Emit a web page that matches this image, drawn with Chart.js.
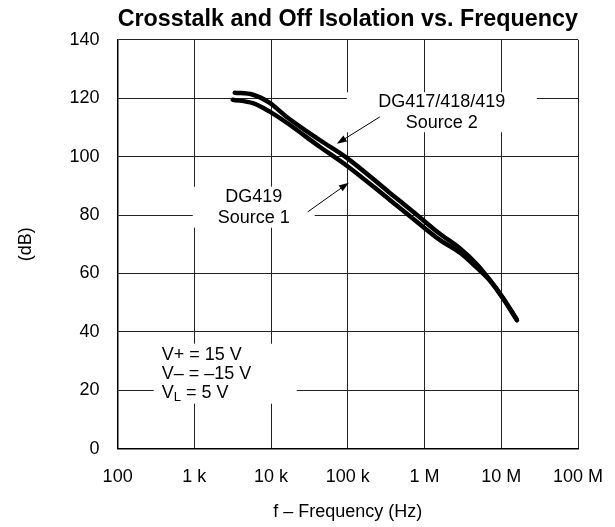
<!DOCTYPE html>
<html>
<head>
<meta charset="utf-8">
<script src="https://cdn.jsdelivr.net/npm/chart.js@4.4.1/dist/chart.umd.min.js"></script>
<style>
  html, body { margin: 0; padding: 0; background: #fff; }
  #wrap { width: 615px; height: 527px; }
</style>
</head>
<body>
<div id="wrap"><canvas id="chart"></canvas></div>
<script>
// axis ticks
const xTicks = [1e2, 1e3, 1e4, 1e5, 1e6, 1e7, 1e8];
const xTickLabels = ['100', '1 k', '10 k', '100 k', '1 M', '10 M', '100 M'];

// DG417/418/419 Source 2 (upper curve)
const freqSource2 = [3.36e3, 5.8e3, 9.6e3, 1.6e4, 4.3e4, 9.7e4, 3.53e5, 7.7e5, 1.58e6, 2.9e6, 4.8e6, 7.1e6, 1.05e7, 1.6e7];
const dbSource2 = [121.9, 121.2, 118.4, 113.6, 105.7, 99.6, 87.6, 80.4, 73.6, 68.6, 63.2, 57.8, 51.7, 44.2];

// DG419 Source 1 (lower curve)
const freqSource1 = [3.16e3, 5.8e3, 9.6e3, 1.6e4, 4.3e4, 9.7e4, 3.53e5, 7.7e5, 1.58e6, 2.9e6, 4.8e6, 7.1e6, 1.05e7, 1.6e7];
const dbSource1 = [119.5, 118.3, 115.4, 111.6, 103.4, 96.9, 85.2, 78.0, 71.5, 67.1, 62.0, 57.6, 51.5, 44.0];

const FONT = "'Liberation Sans', Arial, Helvetica, sans-serif";
Chart.defaults.font.family = FONT;
Chart.defaults.color = '#000';

const toPoints = (xs, ys) => xs.map((x, i) => ({ x: x, y: ys[i] }));

// text notes anchored in data space, boxes blank out the grid behind them
const notes = [
  { lines: ['DG417/418/419', 'Source 2'], at: [1.68e6, 115.2], box: [190, 40], align: 'center' },
  { lines: ['DG419', 'Source 1'], at: [5.94e3, 82.7], box: [122, 41], align: 'center' },
  { lines: ['V+ = 15 V', 'V\u2013 = \u201315 V', 'VL = 5 V'], at: [375, 25.7], box: [143, 60], align: 'left' }
];
const arrows = [
  { from: [2.61e5, 113.6], to: [7.18e4, 104.4] },
  { from: [3.0e4, 81.1], to: [1.03e5, 91.1] }
];

const notesPlugin = {
  id: 'notes',
  beforeDatasetsDraw(chart) {
    const { ctx, scales: { x, y } } = chart;
    ctx.save();
    ctx.fillStyle = '#fff';
    notes.forEach(n => {
      const px = x.getPixelForValue(n.at[0]);
      const py = y.getPixelForValue(n.at[1]);
      const left = n.align === 'left' ? px - 8 : px - n.box[0] / 2;
      ctx.fillRect(left, py - n.box[1] / 2, n.box[0], n.box[1]);
    });
    ctx.restore();
  },
  afterDatasetsDraw(chart) {
    const { ctx, scales: { x, y } } = chart;
    ctx.save();
    ctx.fillStyle = '#000';
    ctx.textBaseline = 'middle';
    notes.forEach(n => {
      const px = x.getPixelForValue(n.at[0]);
      const py = y.getPixelForValue(n.at[1]);
      const lh = n.lines.length === 3 ? 19 : 21;
      const top = py - (n.lines.length - 1) * lh / 2;
      n.lines.forEach((t, i) => {
        const ly = top + i * lh;
        ctx.font = '18px ' + FONT;
        if (t === 'VL = 5 V') {
          ctx.textAlign = 'left';
          ctx.fillText('V', px, ly);
          const w = ctx.measureText('V').width;
          ctx.font = '13px ' + FONT;
          ctx.fillText('L', px + w, ly + 5);
          const w2 = ctx.measureText('L').width;
          ctx.font = '18px ' + FONT;
          ctx.fillText(' = 5 V', px + w + w2, ly);
        } else {
          ctx.textAlign = n.align;
          ctx.fillText(t, px, ly);
        }
      });
    });
    ctx.strokeStyle = '#000';
    ctx.lineWidth = 1;
    arrows.forEach(a => {
      const x0 = x.getPixelForValue(a.from[0]), y0 = y.getPixelForValue(a.from[1]);
      const x1 = x.getPixelForValue(a.to[0]), y1 = y.getPixelForValue(a.to[1]);
      const ang = Math.atan2(y1 - y0, x1 - x0);
      ctx.beginPath();
      ctx.moveTo(x0, y0);
      ctx.lineTo(x1 - 6 * Math.cos(ang), y1 - 6 * Math.sin(ang));
      ctx.stroke();
      ctx.beginPath();
      ctx.moveTo(x1, y1);
      ctx.lineTo(x1 - 10 * Math.cos(ang) + 3.5 * Math.sin(ang), y1 - 10 * Math.sin(ang) - 3.5 * Math.cos(ang));
      ctx.lineTo(x1 - 10 * Math.cos(ang) - 3.5 * Math.sin(ang), y1 - 10 * Math.sin(ang) + 3.5 * Math.cos(ang));
      ctx.closePath();
      ctx.fill();
    });
    ctx.restore();
  }
};

const lineStyle = {
  borderColor: '#000',
  borderWidth: 4.5,
  pointRadius: 0,
  fill: false,
  cubicInterpolationMode: 'monotone',
  borderCapStyle: 'round',
  borderJoinStyle: 'round'
};

new Chart(document.getElementById('chart'), {
  type: 'line',
  data: {
    datasets: [
      Object.assign({ label: 'DG417/418/419 Source 2', data: toPoints(freqSource2, dbSource2) }, lineStyle),
      Object.assign({ label: 'DG419 Source 1', data: toPoints(freqSource1, dbSource1) }, lineStyle)
    ]
  },
  options: {
    responsive: true,
    maintainAspectRatio: false,
    animation: false,
    events: [],
    layout: { padding: { left: 10, right: 37, top: 0, bottom: 2 } },
    plugins: {
      legend: { display: false },
      tooltip: { enabled: false },
      title: {
        display: true,
        fullSize: false,
        text: 'Crosstalk and Off Isolation vs. Frequency',
        color: '#000',
        font: { size: 24, weight: 'bold' },
        padding: { top: 5, bottom: 6 }
      }
    },
    scales: {
      x: {
        type: 'logarithmic',
        min: 1e2,
        max: 1e8,
        afterBuildTicks: axis => { axis.ticks = xTicks.map(v => ({ value: v })); },
        afterFit: axis => { axis.paddingLeft = 0; axis.paddingRight = 0; },
        ticks: {
          color: '#000',
          font: { size: 18 },
          padding: 17,
          maxRotation: 0,
          autoSkip: false,
          callback: (v, i) => xTickLabels[i]
        },
        grid: { color: '#222', lineWidth: 1, drawTicks: false },
        border: { display: true, color: '#000', width: 1.5 },
        title: {
          display: true,
          text: 'f \u2013 Frequency (Hz)',
          color: '#000',
          font: { size: 18 },
          padding: { top: -3, bottom: 2 }
        }
      },
      y: {
        min: 0,
        max: 140,
        ticks: { stepSize: 20, color: '#000', font: { size: 18 }, padding: 18 },
        grid: { color: '#222', lineWidth: 1, drawTicks: false },
        border: { display: true, color: '#000', width: 1.5 },
        title: {
          display: true,
          text: '(dB)',
          color: '#000',
          font: { size: 18 },
          padding: { top: 5, bottom: 15 }
        }
      }
    }
  },
  plugins: [notesPlugin]
});
</script>
</body>
</html>
